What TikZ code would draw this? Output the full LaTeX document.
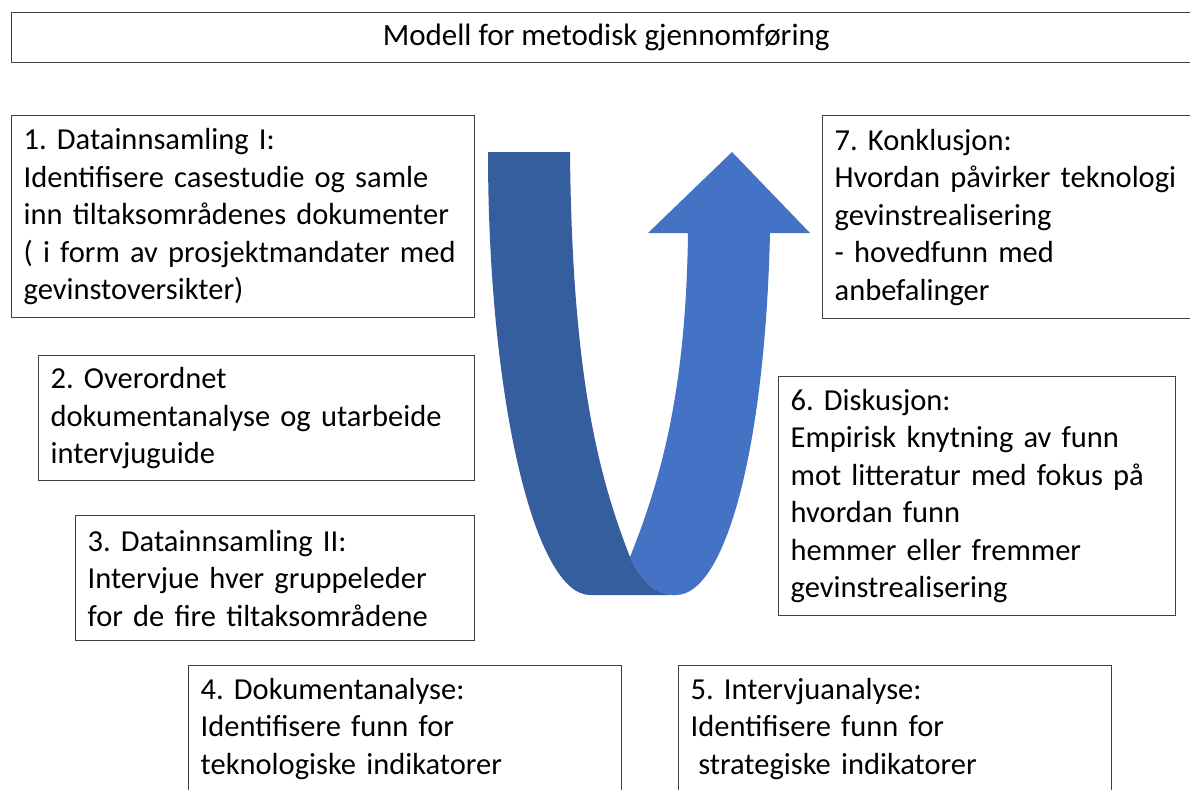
\documentclass[tikz,border=0pt]{standalone}
\usepackage{fontspec}
\setmainfont{Carlito}
\definecolor{boxline}{RGB}{64,64,64}
\definecolor{ribbondark}{RGB}{53,94,158}
\definecolor{ribbonlight}{RGB}{68,114,196}
\newcommand{\boxfont}{\frenchspacing\fontsize{30.5pt}{37.5pt}\selectfont}
\newcommand{\titlefont}{\frenchspacing\fontsize{31pt}{37.5pt}\selectfont}
\tikzset{
  stepbox/.style={draw=boxline, line width=1.3pt, anchor=north west, inner xsep=12pt, inner ysep=0pt,
    align=left, font=\boxfont},
  titlebox/.style={draw=boxline, line width=1.3pt, anchor=north west, inner sep=0pt, font=\titlefont},
}
\begin{document}
\begin{tikzpicture}[x=1pt,y=-1pt]
\useasboundingbox (0,0) rectangle (1190,789);
\clip (0,0) rectangle (1190,789);
\fill[white] (0,0) rectangle (1190,789);

% title
\node[titlebox, minimum width=1189pt, minimum height=50pt] (title) at (11,12) {Modell for metodisk gjennomføring};

% ribbon arrow: light part
\fill[ribbonlight] (630,557) .. controls (665,470) and (686,380) .. (688,233)
  -- (648,233) -- (732,152) -- (810,233) -- (770,233)
  .. controls (765,450) and (725,595) .. (676,595)
  .. controls (655,595) and (640,580) .. (630,557) -- cycle;
% dark part
\fill[ribbondark] (488,152) .. controls (488,400) and (535,595) .. (590,595)
  -- (676,595)
  .. controls (655,595) and (640,580) .. (630,557)
  .. controls (600,480) and (572,380) .. (570,152) -- cycle;

% step boxes
\node[stepbox, minimum width=463pt, minimum height=202pt, text width=439pt] (b1) at (11,115)
 {1. Datainnsamling I:\\Identifisere casestudie og samle\\inn tiltaksområdenes dokumenter\\( i form av prosjektmandater med\\gevinstoversikter)};
\node[stepbox, minimum width=436pt, minimum height=125pt, text width=412pt] (b2) at (38,355)
 {2. Overordnet\\dokumentanalyse og utarbeide\\intervjuguide};
\node[stepbox, minimum width=399pt, minimum height=125pt, text width=375pt] (b3) at (75,515)
 {3. Datainnsamling II:\\Intervjue hver gruppeleder\\for de fire tiltaksområdene};
\node[stepbox, minimum width=433pt, minimum height=126pt, text width=409pt] (b4) at (188,665)
 {4. Dokumentanalyse:\\Identifisere funn for\\teknologiske indikatorer};
\node[stepbox, minimum width=433pt, minimum height=126pt, text width=409pt] (b5) at (678,665)
 {5. Intervjuanalyse:\\Identifisere funn for\\\hspace*{0.25em}strategiske indikatorer};
\node[stepbox, minimum width=397pt, minimum height=239pt, text width=373pt] (b6) at (778,376)
 {6. Diskusjon:\\Empirisk knytning av funn\\mot litteratur med fokus på\\hvordan funn\\hemmer eller fremmer\\gevinstrealisering};
\node[stepbox, minimum width=390pt, minimum height=203pt, text width=366pt] (b7) at (822,115)
 {7. Konklusjon:\\Hvordan påvirker teknologi\\gevinstrealisering\\- hovedfunn med\\anbefalinger};
\end{tikzpicture}
\end{document}
